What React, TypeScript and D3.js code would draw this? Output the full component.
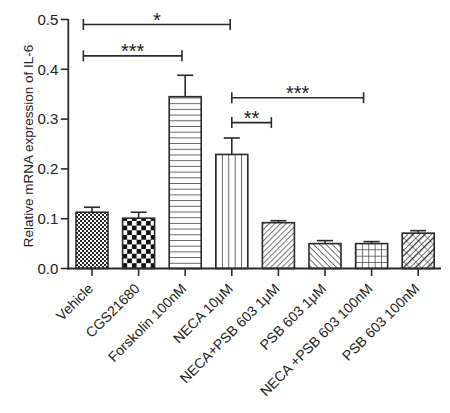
import React from "react";
import * as d3 from "d3";

const categories = [
  "Vehicle",
  "CGS21680",
  "Forskolin 100nM",
  "NECA 10μM",
  "NECA+PSB 603 1μM",
  "PSB 603 1μM",
  "NECA +PSB 603 100nM",
  "PSB 603 100nM",
];
const means = [0.113, 0.101, 0.345, 0.229, 0.092, 0.05, 0.05, 0.071];
const errors = [0.01, 0.012, 0.043, 0.033, 0.004, 0.006, 0.004, 0.005];
const patternIds = ["fineCheck", "bigCheck", "hLines", "vLines", "fwdDiag", "backDiag", "grid", "crossDiag"];
const yTicks = [0, 0.1, 0.2, 0.3, 0.4, 0.5];

// significance comparisons: from category, to category, height, label
const sigFrom = ["Vehicle", "Vehicle", "NECA 10μM", "NECA 10μM"];
const sigTo = ["NECA 10μM", "Forskolin 100nM", "NECA +PSB 603 100nM", "NECA+PSB 603 1μM"];
const sigLevel = [0.49, 0.427, 0.343, 0.293];
const sigLabel = ["*", "***", "***", "**"];
// anchor fractions within the band where the bracket ends sit
const sigFromFrac = [0.23, 0.23, 0.5, 0.5];
const sigToFrac = [0.45, 0.4, 0.25, 0.28];

const W = 450;
const H = 413;
const INK = "#2a2a2a";
const FONT = "Arial, 'Liberation Sans', Helvetica, sans-serif";

export default function App() {
  const x = d3
    .scaleBand<string>()
    .domain(categories)
    .range([68.7, 441.5])
    .paddingInner(0.313)
    .paddingOuter(0.1565);
  const y = d3.scaleLinear().domain([0, 0.5]).range([268.5, 19.5]);
  const bw = x.bandwidth();
  const x0 = 68.3;

  return (
    <svg
      width={W}
      height={H}
      style={{ position: "absolute", left: 0, top: 0, background: "#fff" }}
      fontFamily={FONT}
    >
      <defs>
        <pattern id="fineCheck" width="4" height="4" patternUnits="userSpaceOnUse">
          <rect width="4" height="4" fill="#fff" />
          <rect width="2" height="2" fill={INK} />
          <rect x="2" y="2" width="2" height="2" fill={INK} />
        </pattern>
        <pattern id="bigCheck" width="9.4" height="9.4" patternUnits="userSpaceOnUse" patternTransform="translate(122.5,0)">
          <rect width="9.4" height="9.4" fill="#fff" />
          <rect width="4.7" height="4.7" fill="#111" />
          <rect x="4.7" y="4.7" width="4.7" height="4.7" fill="#111" />
        </pattern>
        <pattern id="hLines" width="10" height="5.7" patternUnits="userSpaceOnUse" patternTransform="translate(0,268.5)">
          <rect width="10" height="5.7" fill="#fff" />
          <line x1="0" x2="10" y1="0" y2="0" stroke={INK} strokeWidth="1.4" />
        </pattern>
        <pattern id="vLines" width="6.4" height="10" patternUnits="userSpaceOnUse" patternTransform="translate(215.5,0)">
          <rect width="6.4" height="10" fill="#fff" />
          <line x1="0" x2="0" y1="0" y2="10" stroke={INK} strokeWidth="1.4" />
        </pattern>
        <pattern id="fwdDiag" width="4" height="4" patternUnits="userSpaceOnUse" patternTransform="rotate(45)">
          <rect width="4" height="4" fill="#fff" />
          <line x1="0" x2="0" y1="0" y2="4" stroke={INK} strokeWidth="1.3" />
        </pattern>
        <pattern id="backDiag" width="4.4" height="4.4" patternUnits="userSpaceOnUse" patternTransform="rotate(-45)">
          <rect width="4.4" height="4.4" fill="#fff" />
          <line x1="0" x2="0" y1="0" y2="4.4" stroke={INK} strokeWidth="1.3" />
        </pattern>
        <pattern id="grid" width="6.4" height="6.4" patternUnits="userSpaceOnUse" patternTransform="translate(355.5,268.5)">
          <rect width="6.4" height="6.4" fill="#fff" />
          <line x1="0" x2="0" y1="0" y2="6.4" stroke={INK} strokeWidth="1.3" />
          <line x1="0" x2="6.4" y1="0" y2="0" stroke={INK} strokeWidth="1.3" />
        </pattern>
        <pattern id="crossDiag" width="8.4" height="8.4" patternUnits="userSpaceOnUse" patternTransform="rotate(45)">
          <rect width="8.4" height="8.4" fill="#fff" />
          <line x1="0" x2="0" y1="0" y2="8.4" stroke={INK} strokeWidth="1.3" />
          <line x1="4.2" x2="4.2" y1="0" y2="8.4" stroke={INK} strokeWidth="1.3" />
          <line x1="0" x2="8.4" y1="0" y2="0" stroke={INK} strokeWidth="1" />
        </pattern>
      </defs>

      {/* bars */}
      {categories.map((c, i) => {
        const bx = x(c)!;
        const cx = bx + bw / 2;
        const top = y(means[i]);
        const eTop = y(means[i] + errors[i]);
        return (
          <g key={c}>
            <line x1={cx} x2={cx} y1={top} y2={eTop} stroke={INK} strokeWidth={1.6} />
            <line x1={cx - 8} x2={cx + 8} y1={eTop} y2={eTop} stroke={INK} strokeWidth={1.6} />
            <rect
              x={bx}
              y={top}
              width={bw}
              height={y(0) - top}
              fill={`url(#${patternIds[i]})`}
              stroke={INK}
              strokeWidth={1.6}
            />
          </g>
        );
      })}

      {/* y axis */}
      <line x1={x0} x2={x0} y1={y(0.5) - 0.5} y2={y(0) + 1} stroke={INK} strokeWidth={1.8} />
      {yTicks.map((t) => (
        <g key={t}>
          <line x1={x0 - 7.5} x2={x0} y1={y(t)} y2={y(t)} stroke={INK} strokeWidth={1.6} />
          <text x={x0 - 10} y={y(t)} dy="0.35em" textAnchor="end" fontSize={15} fill="#222">
            {d3.format(".1f")(t)}
          </text>
        </g>
      ))}
      <text
        transform={`translate(33,146) rotate(-90)`}
        textAnchor="middle"
        fontSize={13.5}
        fill="#222"
      >
        Relative mRNA expression of IL-6
      </text>

      {/* x axis */}
      <line x1={x0 - 0.9} x2={441} y1={y(0)} y2={y(0)} stroke={INK} strokeWidth={1.8} />
      {categories.map((c) => {
        const cx = x(c)! + bw / 2;
        return (
          <g key={c}>
            <line x1={cx} x2={cx} y1={y(0)} y2={y(0) + 7.5} stroke={INK} strokeWidth={1.6} />
            <text
              transform={`translate(${cx + 2},${y(0) + 21}) rotate(-45)`}
              textAnchor="end"
              fontSize={14}
              fill="#222"
            >
              {c}
            </text>
          </g>
        );
      })}

      {/* significance brackets */}
      {sigLabel.map((lab, k) => {
        const xa = x(sigFrom[k])! + bw * sigFromFrac[k];
        const xb = x(sigTo[k])! + bw * sigToFrac[k];
        const yy = y(sigLevel[k]);
        return (
          <g key={k}>
            <line x1={xa} x2={xb} y1={yy} y2={yy} stroke={INK} strokeWidth={1.6} />
            <line x1={xa} x2={xa} y1={yy - 5.5} y2={yy + 5.5} stroke={INK} strokeWidth={1.6} />
            <line x1={xb} x2={xb} y1={yy - 5.5} y2={yy + 5.5} stroke={INK} strokeWidth={1.6} />
            <text x={(xa + xb) / 2} y={yy + 2.5} textAnchor="middle" fontSize={20} fill="#222">
              {lab}
            </text>
          </g>
        );
      })}
    </svg>
  );
}
